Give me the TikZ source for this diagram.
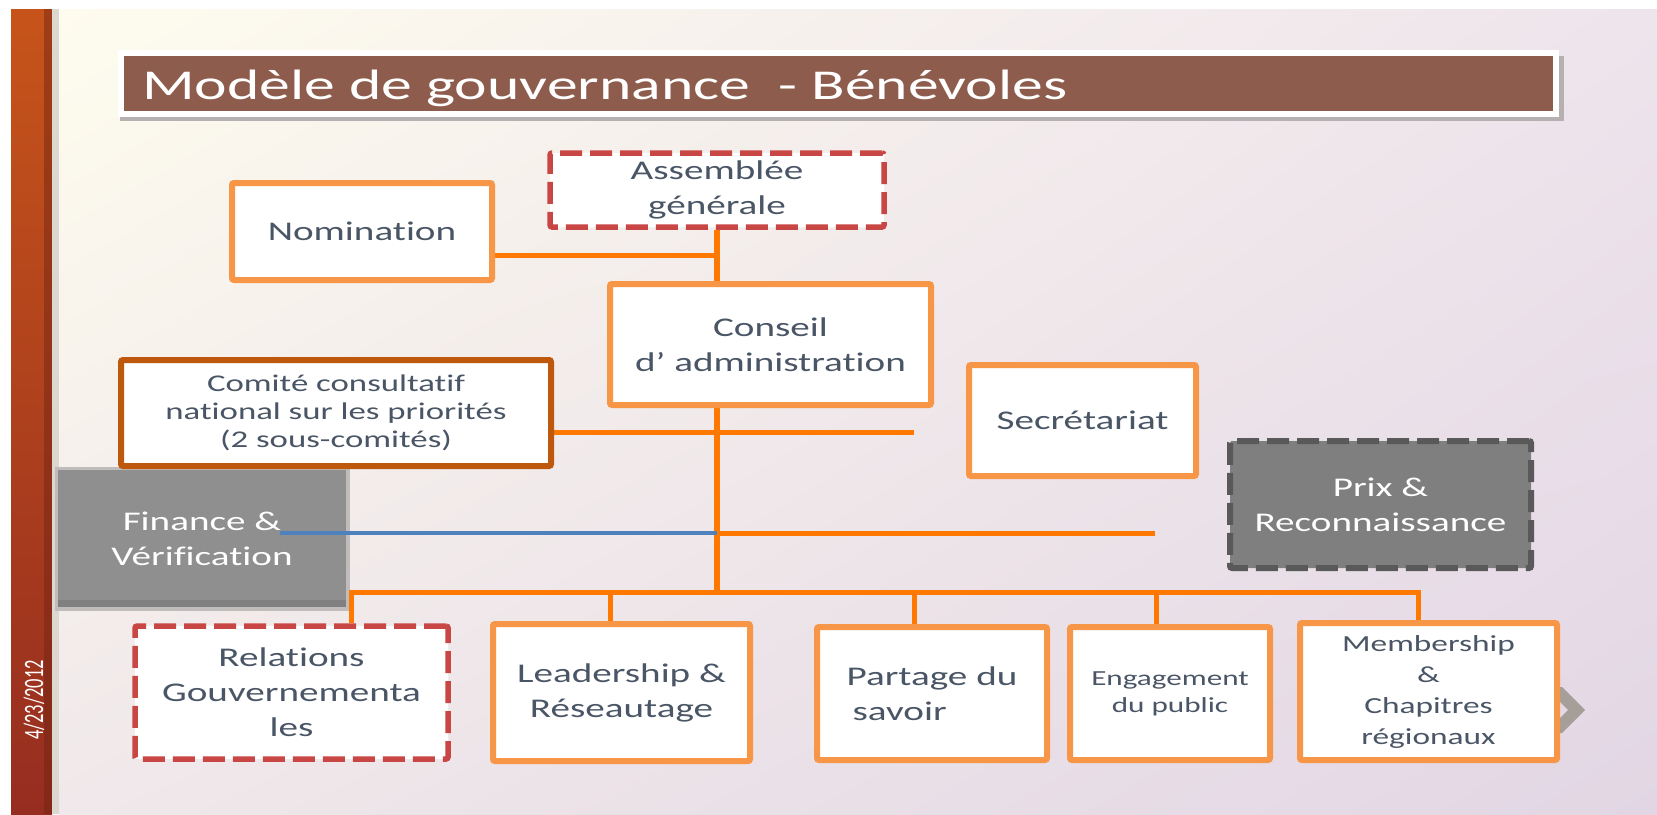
\documentclass[tikz,border=0pt]{standalone}
\usepackage{fontspec}
\usepackage{graphicx}
\usetikzlibrary{shadings}
\newfontfamily\boxfont[FakeStretch=1.45,Ligatures=CommonOff]{Carlito}
\newfontfamily\headfont[FakeStretch=1.45,Ligatures=CommonOff]{Carlito}
\newfontfamily\datefont{Carlito}

\definecolor{bgtl}{RGB}{254,252,238}
\definecolor{bgtr}{RGB}{238,228,236}
\definecolor{bgbl}{RGB}{240,232,234}
\definecolor{bgbr}{RGB}{226,214,228}
\definecolor{bartop}{RGB}{198,84,26}
\definecolor{barbot}{RGB}{150,45,32}
\definecolor{barshade}{RGB}{110,35,18}
\definecolor{barstrip}{RGB}{220,216,208}
\definecolor{titlebrown}{RGB}{142,92,76}
\definecolor{titleshadow}{RGB}{182,176,176}
\definecolor{boxorange}{RGB}{247,150,70}
\definecolor{dashred}{RGB}{200,70,68}
\definecolor{comiteedge}{RGB}{190,88,12}
\definecolor{awardgray}{RGB}{127,127,127}
\definecolor{awardedge}{RGB}{89,89,89}
\definecolor{fingray}{RGB}{143,143,143}
\definecolor{finedge}{RGB}{192,188,188}
\definecolor{finshade}{RGB}{128,128,128}
\definecolor{wireorange}{RGB}{255,120,0}
\definecolor{tapblue}{RGB}{79,129,189}
\definecolor{slate}{RGB}{74,86,102}
\definecolor{chevgray}{RGB}{166,158,152}

\pgfdeclarelayer{back}
\pgfdeclarelayer{wires}
\pgfsetlayers{back,wires,main}

\begin{document}
\begin{tikzpicture}[x=1pt,y=-1pt,inner sep=0pt,
  unit/.style={draw=boxorange,line width=6pt,fill=white,rounded corners=2pt,
    text=slate,align=center,font=\boxfont\fontsize{27}{35}\selectfont},
  smalltext/.style={font=\boxfont\fontsize{24}{28}\selectfont},
  pending/.style={unit,draw=dashred,line width=5.5pt,dash pattern=on 22pt off 8pt},
  award/.style={unit,draw=awardedge,fill=awardgray,text=white,dash pattern=on 22pt off 8pt},
  panel/.style={fill=fingray,text=white,align=center,font=\boxfont\fontsize{27}{35}\selectfont},
  titlebar/.style={draw=white,line width=6pt,fill=titlebrown,text=white,align=left,
    text width=1393pt,inner xsep=21pt,minimum height=61pt,text height=31pt,text depth=0pt,
    font=\headfont\fontsize{42.5}{44}\selectfont},
  wire/.style={draw=wireorange,line width=5pt},
  tap/.style={draw=tapblue,line width=4pt}]
  \useasboundingbox (0,0) rectangle (1657,814);

  \begin{pgfonlayer}{back}
    % slide background, side bar and date
    \fill[white] (0,0) rectangle (1657,814);
    \shade[upper left=bgtl,upper right=bgtr,lower left=bgbl,lower right=bgbr] (59,9) rectangle (1657,814);
    \shade[top color=bartop,bottom color=barbot] (11,9) rectangle (52,814);
    \fill[barshade,opacity=.45] (44,9) rectangle (52,814);
    \fill[barstrip] (52,9) rectangle (59,814);
    \node[rotate=90,text=white,font=\datefont\fontsize{28}{28}\selectfont] (date) at (34,700) {\scalebox{.66}[1]{4/23/2012}};
    \fill[titleshadow] (120,56) rectangle (1564,121);
    % finance box sits under the blue line
    \fill[finedge] (55,467) rectangle (350,611);
    \node[panel,minimum width=288pt,minimum height=137pt] (finance) at (202,538.5) {Finance \&\\Vérification};
    \fill[finshade] (58,600) rectangle (346,607);
    % next-slide arrow
    \fill[chevgray] (1545,687) -- (1562,687) -- (1585,710) -- (1562,733) -- (1545,733) -- (1568,710) -- cycle;
  \end{pgfonlayer}

  \node[titlebar] (title) at (838.5,83.5) {Modèle de gouvernance\ \ - Bénévoles};

  \node[pending,minimum width=334pt,minimum height=74pt] (assemblee) at (717,190) {Assemblée\\générale};
  \node[unit,minimum width=260pt,minimum height=97pt] (nomination) at (362,231.5) {Nomination};
  \node[unit,minimum width=321pt,minimum height=121pt] (conseil) at (770.5,344.5) {Conseil\\d’ administration};
  \node[unit,smalltext,draw=comiteedge,minimum width=430pt,minimum height=106pt] (comite) at (336,413)
    {Comité consultatif\\national sur les priorités\\(2 sous-comités)};
  \node[unit,minimum width=227pt,minimum height=111pt] (secretariat) at (1082.5,420.5) {Secrétariat};
  \node[award,minimum width=301pt,minimum height=127pt] (prix) at (1380.5,504.5) {Prix \&\\Reconnaissance};

  % committees along the bottom
  \node[pending,minimum width=313pt,minimum height=133pt] (relations) at (291.5,692.5) {Relations\\Gouvernementa\\les};
  \node[unit,minimum width=257pt,minimum height=137pt] (leadership) at (621.5,692.5) {Leadership \&\\Réseautage};
  \node[unit,align=left,minimum width=230pt,minimum height=133pt] (partage) at (932,693.5) {Partage du\\\hspace*{6pt}savoir};
  \node[unit,font=\boxfont\fontsize{21.5}{27}\selectfont,minimum width=200pt,minimum height=133pt] (engagement) at (1170,693.5) {Engagement\\du public};
  \node[unit,font=\boxfont\fontsize{23}{31}\selectfont,minimum width=257pt,minimum height=137pt] (membership) at (1428.5,691.5)
    {Membership\\\&\\Chapitres\\régionaux};

  \begin{pgfonlayer}{wires}
    \coordinate (hub) at (717,592);
    \coordinate (nomjoin) at (717,255);
    \coordinate (comend) at (914,432);
    \coordinate (fintap) at (280,533);
    \coordinate (awardend) at (1155,533);
    \coordinate (busl) at (351,592);
    \coordinate (busr) at (1418,592);
    \draw[wire,line width=6pt] (assemblee.south) -- (hub);
    \draw[wire] (nomination.east |- nomjoin) -- (nomjoin);
    \draw[wire] (comite.east |- comend) -- (comend);
    \draw[wire] (fintap -| hub) -- (awardend);
    \draw[wire] (busl |- relations.north) -- (busl) -- (busr) -- (busr |- membership.north);
    \foreach \n/\x in {leadership/610,partage/914,engagement/1156}
      \draw[wire] (\x,592) -- (\x,0 |- \n.north);
    \draw[tap] (fintap) -- (fintap -| hub);
  \end{pgfonlayer}
\end{tikzpicture}
\end{document}
